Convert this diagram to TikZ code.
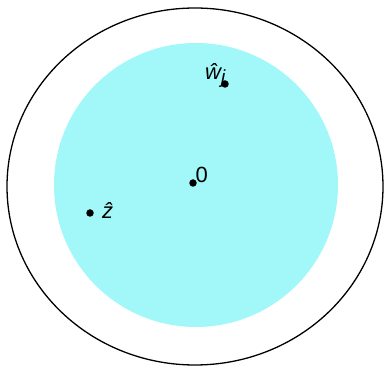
\documentclass[tikz,border=0pt]{standalone}
\usepackage{fontspec}
\setmainfont{Liberation Sans}
\definecolor{diskfill}{HTML}{A2F8F9}
\tikzset{
  pt/.style={circle,fill=black,inner sep=0pt,minimum size=7.5pt},
  lbl/.style={inner sep=0pt,font=\fontsize{22}{24}\selectfont}
}
\begin{document}
\begin{tikzpicture}[x=1pt,y=-1pt]
\useasboundingbox (0,0) rectangle (384,366);
\fill[diskfill] (196,185) circle (142);
\draw[line width=1.3pt] (195,186.5) ellipse (188 and 178.5);
\node[pt] (o) at (193,183) {};
\node[pt] (z) at (90,213) {};
\node[pt] (w) at (225,84) {};
\node[lbl,anchor=base west] (ol) at (195.5,183) {0};
\node[lbl,anchor=base west] (zl) at (102,219) {\itshape ẑ};
\node[lbl,anchor=base west] (wl) at (205,80) {\itshape ŵ\raisebox{-4pt}{\fontsize{19}{21}\selectfont j}};
\end{tikzpicture}
\end{document}
